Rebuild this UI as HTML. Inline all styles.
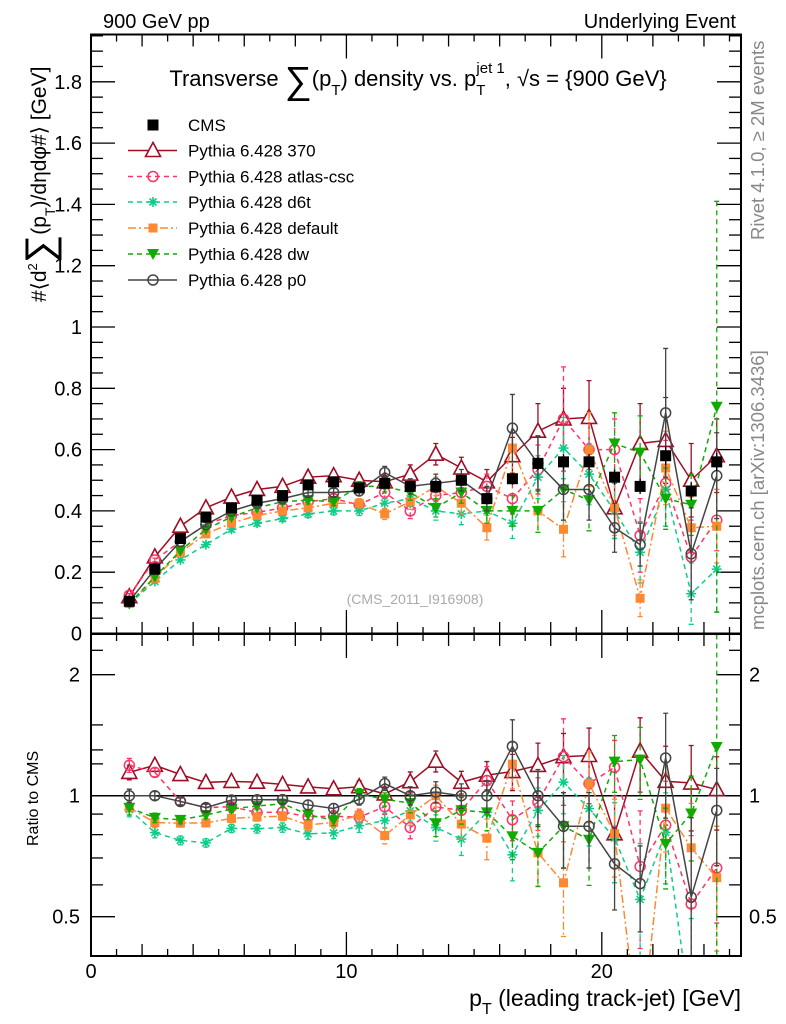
<!DOCTYPE html>
<html><head><meta charset="utf-8"><style>
html,body{margin:0;padding:0;background:#fff;overflow:hidden;width:786px;height:1024px;}
svg{display:block;font-family:"Liberation Sans",sans-serif;}
</style></head><body>
<svg id="c" width="786" height="1024" viewBox="0 0 786 1024" xmlns="http://www.w3.org/2000/svg">
<defs>
<clipPath id="clipMain"><rect x="91" y="34" width="650" height="600"/></clipPath>
<clipPath id="clipRatio"><rect x="91" y="634" width="650" height="322"/></clipPath>
</defs>
<text x="103" y="28" font-size="20">900 GeV pp</text>
<text x="736" y="28" font-size="20" text-anchor="end">Underlying Event</text>
<text x="418" y="86" font-size="22" text-anchor="middle">Transverse <tspan font-size="38" dy="7">∑</tspan><tspan dy="-7">(p</tspan><tspan font-size="15" dy="9">T</tspan><tspan dy="-9">) density vs. p</tspan><tspan font-size="15" dy="9">T</tspan><tspan font-size="15" dx="-9" dy="-22">jet 1</tspan><tspan dy="13">, √s = {900 GeV}</tspan></text>
<text transform="translate(46,302) rotate(-90)" font-size="21">#⟨d<tspan font-size="13" dy="-9">2</tspan><tspan font-size="40" dy="16">∑</tspan><tspan dy="-7">(p</tspan><tspan font-size="14" dy="9">T</tspan><tspan dy="-9">)/dηdφ#⟩ [GeV]</tspan></text>
<text transform="translate(764,240) rotate(-90)" font-size="18.5" fill="#888">Rivet 4.1.0, ≥ 2M events</text>
<text transform="translate(764,630) rotate(-90)" font-size="18.5" fill="#888">mcplots.cern.ch [arXiv:1306.3436]</text>
<text x="415" y="604" font-size="14" fill="#aaa" text-anchor="middle">(CMS_2011_I916908)</text>
<text transform="translate(38,846) rotate(-90)" font-size="16">Ratio to CMS</text>
<text x="741" y="1006" font-size="23" text-anchor="end">p<tspan font-size="16" dy="8">T</tspan><tspan dy="-8"> (leading track-jet) [GeV]</tspan></text>
<g id="axes"></g>
<g id="mainMarks" clip-path="url(#clipMain)"></g>
<g id="ratioMarks" clip-path="url(#clipRatio)"></g>
<g id="legend"></g>
<rect x="91" y="34.5" width="650" height="599" fill="none" stroke="#000" stroke-width="2"/>
<rect x="91" y="634" width="650" height="322" fill="none" stroke="#000" stroke-width="2"/>
</svg>
<script>
const xCenters=[1.5,2.5,3.5,4.5,5.5,6.5,7.5,8.5,9.5,10.5,11.5,12.5,13.5,14.5,15.5,16.5,17.5,18.5,19.5,20.5,21.5,22.5,23.5,24.5];
const cmsVals=[0.105,0.21,0.31,0.38,0.41,0.435,0.45,0.485,0.495,0.475,0.49,0.48,0.48,0.50,0.44,0.505,0.555,0.56,0.56,0.51,0.48,0.58,0.465,0.56];
const cmsErr=[0.004,0.005,0.006,0.006,0.007,0.007,0.008,0.009,0.01,0.01,0.012,0.013,0.014,0.016,0.018,0.02,0.022,0.025,0.025,0.025,0.025,0.03,0.03,0.03];
const p370Vals=[0.12,0.25,0.35,0.41,0.445,0.47,0.48,0.51,0.515,0.50,0.495,0.52,0.585,0.54,0.495,0.58,0.66,0.70,0.705,0.41,0.62,0.63,0.50,0.58];
const p370Err=[0.005,0.006,0.006,0.007,0.008,0.01,0.012,0.013,0.015,0.017,0.02,0.03,0.035,0.035,0.04,0.06,0.09,0.1,0.12,0.1,0.13,0.14,0.12,0.12];
const atlasVals=[0.125,0.24,0.30,0.355,0.385,0.395,0.41,0.43,0.44,0.42,0.46,0.40,0.45,0.46,0.48,0.44,0.535,0.70,0.60,0.60,0.32,0.49,0.25,0.37];
const atlasErr=[0.005,0.006,0.006,0.007,0.008,0.01,0.012,0.013,0.015,0.017,0.02,0.025,0.03,0.035,0.04,0.05,0.08,0.17,0.12,0.1,0.12,0.14,0.12,0.1];
const d6tVals=[0.097,0.17,0.24,0.29,0.34,0.36,0.375,0.39,0.40,0.40,0.425,0.44,0.40,0.39,0.40,0.36,0.51,0.605,0.52,0.40,0.265,0.47,0.13,0.21];
const d6tErr=[0.004,0.005,0.006,0.007,0.008,0.009,0.01,0.012,0.013,0.015,0.018,0.025,0.03,0.035,0.04,0.05,0.07,0.1,0.1,0.09,0.1,0.12,0.1,0.14];
const defaultVals=[0.098,0.18,0.265,0.325,0.36,0.385,0.40,0.41,0.425,0.425,0.39,0.43,0.48,0.425,0.345,0.605,0.40,0.34,0.60,0.41,0.115,0.54,0.345,0.35];
const defaultErr=[0.004,0.005,0.006,0.007,0.008,0.009,0.01,0.012,0.013,0.015,0.018,0.025,0.03,0.035,0.04,0.08,0.07,0.09,0.12,0.09,0.06,0.12,0.1,0.12];
const dwVals=[0.098,0.185,0.27,0.34,0.38,0.41,0.43,0.435,0.43,0.48,0.48,0.46,0.41,0.46,0.40,0.40,0.40,0.47,0.435,0.62,0.59,0.44,0.42,0.74];
const dwErr=[0.004,0.005,0.006,0.007,0.008,0.009,0.01,0.012,0.013,0.015,0.018,0.025,0.03,0.035,0.04,0.05,0.07,0.1,0.1,0.1,0.12,0.1,0.1,0.67];
const p0Vals=[0.105,0.21,0.30,0.355,0.40,0.425,0.44,0.46,0.46,0.465,0.525,0.48,0.49,0.50,0.44,0.67,0.555,0.47,0.47,0.345,0.29,0.72,0.26,0.515];
const p0Err=[0.004,0.005,0.006,0.007,0.008,0.009,0.01,0.012,0.013,0.015,0.02,0.025,0.03,0.035,0.04,0.11,0.09,0.1,0.1,0.08,0.07,0.21,0.15,0.14];
const mainTicks=[0,0.2,0.4,0.6,0.8,1,1.2,1.4,1.6,1.8];
const ratioTicks=[0.5,1,2];
const ratioMinor=[0.4,0.6,0.7,0.8,0.9,1.2,1.3,1.5,2.3];
const xTicks=[0,10,20];

const NS="http://www.w3.org/2000/svg";
const X=v=>91+v*(650/25.45);
const Y=v=>633.5-v*306.5;
const R=v=>795.7-121*Math.log2(v);
function el(tag,attrs,parent){const e=document.createElementNS(NS,tag);for(const k in attrs)e.setAttribute(k,attrs[k]);parent.appendChild(e);return e;}
const axes=document.getElementById('axes');
const mainG=document.getElementById('mainMarks');
const ratioG=document.getElementById('ratioMarks');
const legG=document.getElementById('legend');

for(let v=0;v<=25;v++){
  const L=v%10===0?24:(v%2===0?12:7);
  const x=X(v);
  [[634,956],[34.5,634]].forEach(([t,b])=>{
    const a=el('line',{x1:x,x2:x,y1:b,y2:b-L,stroke:'#000','stroke-width':1.3},axes);
    
    
    const c=el('line',{x1:x,x2:x,y1:t,y2:t+L,stroke:'#000','stroke-width':1.3},axes);
    
    
  });
}
xTicks.forEach(v=>{
  const t=el('text',{x:X(v),y:978,'font-size':20,'text-anchor':'middle'},axes);
  t.textContent=v;
  
  
});
for(let i=0;i<=39;i++){
  const v=i*0.05;const y=Y(v);if(y<35)continue;
  const L=i%4===0?24:12;
  const a=el('line',{x1:91,x2:91+L,y1:y,y2:y,stroke:'#000','stroke-width':1.3},axes);
  
  
  const b=el('line',{x1:741,x2:741-L,y1:y,y2:y,stroke:'#000','stroke-width':1.3},axes);
  
  
}
mainTicks.forEach(v=>{
  const t=el('text',{x:82,y:Y(v)+7,'font-size':20,'text-anchor':'end'},axes);
  t.textContent=String(v);
  
  
});
ratioTicks.forEach(v=>{
  const y=R(v);
  const a=el('line',{x1:91,x2:115,y1:y,y2:y,stroke:'#000','stroke-width':1.3},axes);
  
  
  const b=el('line',{x1:741,x2:717,y1:y,y2:y,stroke:'#000','stroke-width':1.3},axes);
  
  
  const t=el('text',{x:80,y:y+7,'font-size':20,'text-anchor':'end'},axes);
  t.textContent=String(v);
  
  
  const t2=el('text',{x:749,y:y+7,'font-size':20},axes);
  t2.textContent=String(v);
  
  
});
ratioMinor.forEach(v=>{
  const y=R(v);
  const a=el('line',{x1:91,x2:103,y1:y,y2:y,stroke:'#000','stroke-width':1.3},axes);
  
  
  const b=el('line',{x1:741,x2:729,y1:y,y2:y,stroke:'#000','stroke-width':1.3},axes);
  
  
});
const one=el('line',{x1:91,x2:741,y1:R(1),y2:R(1),stroke:'#000','stroke-width':1.5},ratioG);



function marker(type,color,x,y,g){
  let m;
  if(type==='sq') m=el('rect',{x:x-5.5,y:y-5.5,width:11,height:11,fill:color},g);
  else if(type==='sqs') m=el('rect',{x:x-4.5,y:y-4.5,width:9,height:9,fill:color},g);
  else if(type==='tri') m=el('polygon',{points:`${x},${y-8} ${x-7.5},${y+6} ${x+7.5},${y+6}`,fill:'#fff',stroke:color,'stroke-width':1.6},g);
  else if(type==='tridown') m=el('polygon',{points:`${x-6},${y-5} ${x+6},${y-5} ${x},${y+6}`,fill:color},g);
  else if(type==='circ') m=el('circle',{cx:x,cy:y,r:5,fill:'#fff','fill-opacity':0,stroke:color,'stroke-width':1.5},g);
  else if(type==='star'){
    m=el('path',{d:`M${x-5},${y}H${x+5}M${x},${y-5}V${y+5}M${x-3.5},${y-3.5}L${x+3.5},${y+3.5}M${x-3.5},${y+3.5}L${x+3.5},${y-3.5}`,stroke:color,'stroke-width':1.6,fill:'none'},g);
  }
  return m;
}

const series=[
 {name:'Pythia 6.428 370',vals:p370Vals,err:p370Err,color:'#a00d25',dash:'',mk:'tri',key:'p370'},
 {name:'Pythia 6.428 atlas-csc',vals:atlasVals,err:atlasErr,color:'#ff3366',dash:'5,4',mk:'circ',key:'atlas-csc'},
 {name:'Pythia 6.428 d6t',vals:d6tVals,err:d6tErr,color:'#11cc88',dash:'5,4',mk:'star',key:'d6t'},
 {name:'Pythia 6.428 default',vals:defaultVals,err:defaultErr,color:'#ff8833',dash:'8,3,2,3',mk:'sqs',key:'default'},
 {name:'Pythia 6.428 dw',vals:dwVals,err:dwErr,color:'#11aa00',dash:'5,4',mk:'tridown',key:'dw'},
 {name:'Pythia 6.428 p0',vals:p0Vals,err:p0Err,color:'#444444',dash:'',mk:'circ',key:'p0'}
];

function drawSeries(s,g,fy,ratio){
  const pts=xCenters.map((x,i)=>{const v=ratio?s.vals[i]/cmsVals[i]:s.vals[i];return [X(x),fy(v)];});
  const pl=el('polyline',{points:pts.map(p=>p.join(',')).join(' '),fill:'none',stroke:s.color,'stroke-width':1.5,'stroke-dasharray':s.dash},g);
  
  
  xCenters.forEach((x,i)=>{
    const v=ratio?s.vals[i]/cmsVals[i]:s.vals[i];
    const e=ratio?s.err[i]/cmsVals[i]:s.err[i];
    const lo=Math.max(v-e,0.01);
    const y1=fy(v+e),y2=fy(lo),px=X(x);
    const eb=el('path',{d:`M${px},${y1}V${y2}M${px-2.5},${y1}H${px+2.5}M${px-2.5},${y2}H${px+2.5}`,stroke:s.color,'stroke-width':1.3,fill:'none','stroke-dasharray':s.dash},g);
    
    
    const m=marker(s.mk,s.color,px,fy(v),g);
    
    
  });
}
series.forEach(s=>drawSeries(s,mainG,Y,false));
series.forEach(s=>drawSeries(s,ratioG,R,true));
xCenters.forEach((x,i)=>{
  const px=X(x);
  const eb=el('line',{x1:px,x2:px,y1:Y(cmsVals[i]+cmsErr[i]),y2:Y(cmsVals[i]-cmsErr[i]),stroke:'#000','stroke-width':1.3},mainG);
  
  
  const m=marker('sq','#000',px,Y(cmsVals[i]),mainG);
  
  
});

const legRows=[125,150.5,176.5,202,228,254,280];
const cm=marker('sq','#000',153,legRows[0],legG);


const ct=el('text',{x:188,y:legRows[0]+6,'font-size':17},legG);
ct.textContent='CMS';


series.forEach((s,i)=>{
  const y=legRows[i+1];
  const ln=el('line',{x1:128,x2:177,y1:y,y2:y,stroke:s.color,'stroke-width':1.5,'stroke-dasharray':s.dash},legG);
  
  
  const m=marker(s.mk,s.color,153,y,legG);
  
  
  const t=el('text',{x:188,y:y+6,'font-size':17},legG);
  t.textContent=s.name;
  
  
});
</script>
</body></html>
